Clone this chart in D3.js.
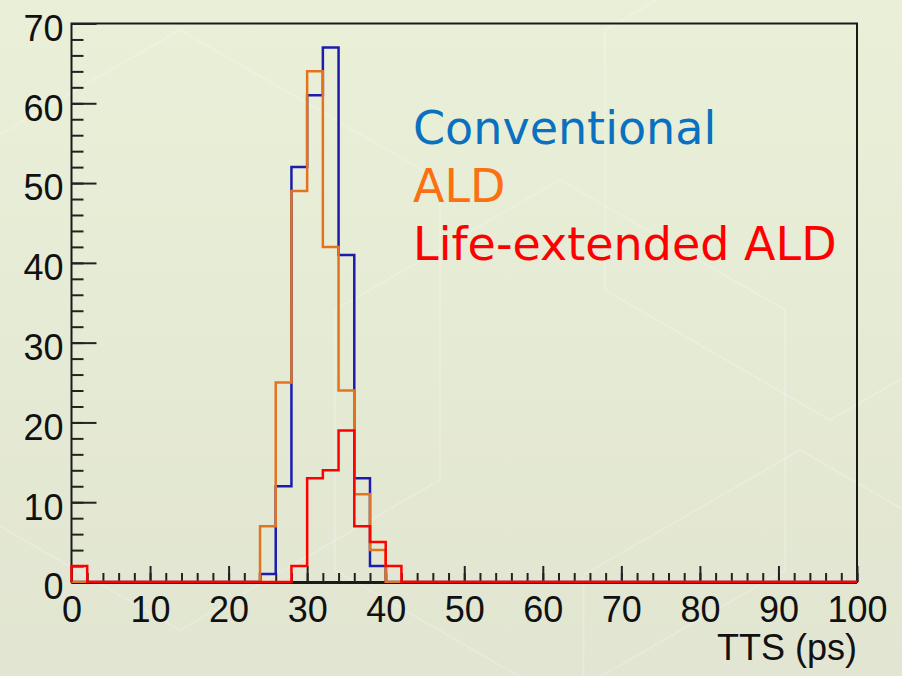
<!DOCTYPE html>
<html>
<head>
<meta charset="utf-8">
<script src="https://cdn.jsdelivr.net/npm/d3@7"></script>
<style>
  html, body { margin: 0; padding: 0; background: #e6ebd4; }
  svg { display: block; }
  .tickLabel text { font-family: "Liberation Sans", Arial, sans-serif; font-size: 36px; fill: #111; }
  .legendText { font-family: "DejaVu Sans", sans-serif; font-size: 46px; font-weight: normal; }
</style>
</head>
<body>
<div id="chart"></div>
<script>
// histogram bins: 2 ps wide, 0..100 ps
var binWidth = 2;

// counts per bin (50 bins)
var conventional = [
  0, 0, 0, 0, 0, 0, 0, 0, 0, 0,
  0, 0, 1, 12, 52, 61, 67, 41, 13, 2,
  0, 0, 0, 0, 0, 0, 0, 0, 0, 0,
  0, 0, 0, 0, 0, 0, 0, 0, 0, 0,
  0, 0, 0, 0, 0, 0, 0, 0, 0, 0
];
var ald = [
  0, 0, 0, 0, 0, 0, 0, 0, 0, 0,
  0, 0, 7, 25, 49, 64, 42, 24, 11, 4,
  0, 0, 0, 0, 0, 0, 0, 0, 0, 0,
  0, 0, 0, 0, 0, 0, 0, 0, 0, 0,
  0, 0, 0, 0, 0, 0, 0, 0, 0, 0
];
var lifeExtended = [
  2, 0, 0, 0, 0, 0, 0, 0, 0, 0,
  0, 0, 0, 0, 2, 13, 14, 19, 7, 5,
  2, 0, 0, 0, 0, 0, 0, 0, 0, 0,
  0, 0, 0, 0, 0, 0, 0, 0, 0, 0,
  0, 0, 0, 0, 0, 0, 0, 0, 0, 0
];

var seriesNames = ["Conventional", "ALD", "Life-extended ALD"];
var lineColors = ["#1c1cae", "#e2741f", "#ff0000"];
var textColors = ["#0a70c0", "#fb7112", "#ff0000"];

var xTicks = [0, 10, 20, 30, 40, 50, 60, 70, 80, 90, 100];
var yTicks = [0, 10, 20, 30, 40, 50, 60, 70];
var xTitle = "TTS (ps)";

var width = 902;
var height = 676;

// plot frame edges (px)
var plotLeft = 71.5, plotRight = 857, plotTop = 23.5, plotBottom = 582;

var svg = d3
  .select("#chart")
  .append("svg")
  .attr("width", width)
  .attr("height", height);

// background
var defs = svg.append("defs");
var grad = defs.append("linearGradient")
  .attr("id", "bg")
  .attr("x1", 0).attr("y1", 0).attr("x2", 0).attr("y2", 1);
grad.append("stop").attr("offset", "0%").attr("stop-color", "#eaf0d8");
grad.append("stop").attr("offset", "100%").attr("stop-color", "#e1e5d1");
svg.append("rect")
  .attr("width", width)
  .attr("height", height)
  .attr("fill", "url(#bg)");

// faint hexagon decoration
function hexPath(cx, cy, r) {
  var pts = d3.range(6).map(function(i) {
    var a = Math.PI / 6 + i * Math.PI / 3;
    return [cx + r * Math.cos(a), cy + r * Math.sin(a)];
  });
  return "M" + pts.join("L") + "Z";
}
var hexes = [[560, 440, 260], [830, 160, 260], [180, 330, 300], [800, 700, 250]];
svg.append("g")
  .selectAll("path")
  .data(hexes)
  .enter()
  .append("path")
  .attr("d", function(d) { return hexPath(d[0], d[1], d[2]); })
  .attr("fill", "none")
  .attr("stroke", "#ffffff")
  .attr("stroke-opacity", 0.2)
  .attr("stroke-width", 2);

var xScale = d3.scaleLinear().domain([0, 100]).range([plotLeft, plotRight]);
var yScale = d3.scaleLinear().domain([0, 70]).range([plotBottom, plotTop]);

// frame
svg.append("rect")
  .attr("x", plotLeft)
  .attr("y", plotTop)
  .attr("width", plotRight - plotLeft)
  .attr("height", plotBottom - plotTop)
  .attr("fill", "none")
  .attr("stroke", "#1a1a1a")
  .attr("stroke-width", 2);

// minor ticks
svg.append("g")
  .attr("transform", "translate(0," + plotBottom + ")")
  .call(d3.axisBottom(xScale).tickValues(d3.range(0, 101, 2)).tickSize(-9).tickFormat(""))
  .call(function(g) {
    g.select(".domain").remove();
    g.selectAll("line").attr("stroke", "#222").attr("stroke-width", 2);
  });
svg.append("g")
  .attr("transform", "translate(" + plotLeft + ",0)")
  .call(d3.axisLeft(yScale).tickValues(d3.range(0, 71, 2)).tickSize(-12).tickFormat(""))
  .call(function(g) {
    g.select(".domain").remove();
    g.selectAll("line").attr("stroke", "#222").attr("stroke-width", 2);
  });

// major ticks + labels
svg.append("g")
  .attr("class", "tickLabel")
  .attr("transform", "translate(0," + plotBottom + ")")
  .call(d3.axisBottom(xScale).tickValues(xTicks).tickSize(-16).tickPadding(14))
  .call(function(g) {
    g.select(".domain").remove();
    g.selectAll("line").attr("stroke", "#222").attr("stroke-width", 2);
    g.selectAll("text").attr("font-size", null).attr("font-family", null).attr("fill", "#111");
  });
svg.append("g")
  .attr("class", "tickLabel")
  .attr("transform", "translate(" + plotLeft + ",0)")
  .call(d3.axisLeft(yScale).tickValues(yTicks).tickSize(-25).tickPadding(8))
  .call(function(g) {
    g.select(".domain").remove();
    g.selectAll("line").attr("stroke", "#222").attr("stroke-width", 2);
    g.selectAll("text").attr("font-size", null).attr("font-family", null)
      .attr("fill", "#111").attr("dy", "0.47em");
  });

// axis title
svg.append("text")
  .attr("x", plotRight)
  .attr("y", 660)
  .attr("text-anchor", "end")
  .style("font-family", "'Liberation Sans', Arial, sans-serif")
  .style("font-size", "36px")
  .attr("fill", "#111")
  .text(xTitle);

// histogram outlines
var line = d3.line()
  .x(function(d) { return xScale(d[0]); })
  .y(function(d) { return yScale(d[1]); })
  .curve(d3.curveStepAfter);

function stepPoints(counts) {
  var pts = [[0, 0]];
  counts.forEach(function(c, i) {
    pts.push([i * binWidth, c]);
  });
  pts.push([counts.length * binWidth, counts[counts.length - 1]]);
  pts.push([counts.length * binWidth, 0]);
  return pts;
}

var allSeries = [conventional, ald, lifeExtended];
svg.append("g")
  .selectAll("path")
  .data(allSeries)
  .enter()
  .append("path")
  .attr("d", function(d) { return line(stepPoints(d)); })
  .attr("fill", "none")
  .attr("stroke", function(d, i) { return lineColors[i]; })
  .attr("stroke-width", 2.5)
  .attr("stroke-linejoin", "miter");

// thin axis line under the zero level
svg.append("line")
  .attr("x1", plotLeft).attr("x2", plotRight)
  .attr("y1", plotBottom + 1.5).attr("y2", plotBottom + 1.5)
  .attr("stroke", "#1a1a1a")
  .attr("stroke-width", 1);

// legend text
var legendY = [144, 202, 260];
svg.append("g")
  .selectAll("text")
  .data(seriesNames)
  .enter()
  .append("text")
  .attr("class", "legendText")
  .attr("x", 413)
  .attr("y", function(d, i) { return legendY[i]; })
  .attr("fill", function(d, i) { return textColors[i]; })
  .text(function(d) { return d; });
</script>
</body>
</html>
